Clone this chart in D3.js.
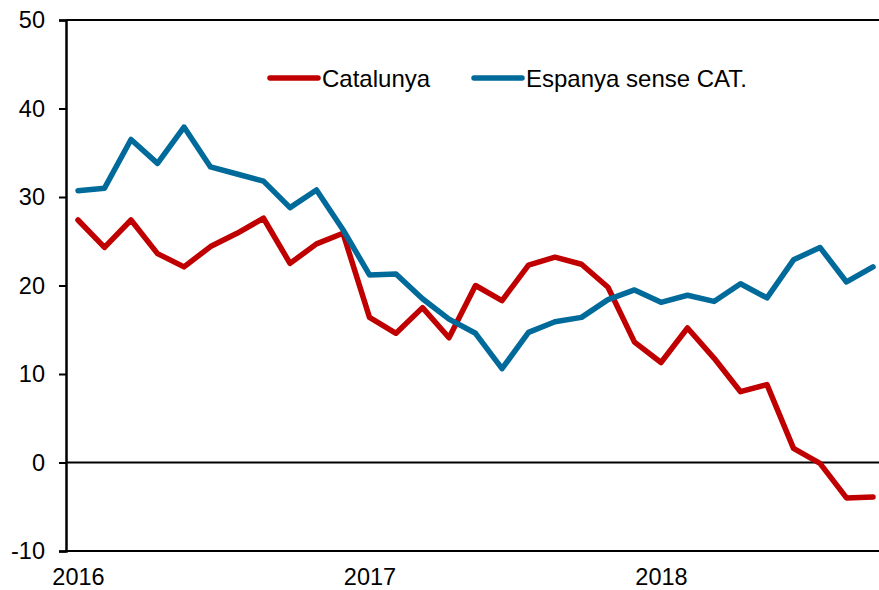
<!DOCTYPE html>
<html>
<head>
<meta charset="utf-8">
<script src="https://cdn.jsdelivr.net/npm/d3@7"></script>
<style>
  html, body { margin: 0; padding: 0; background: #fff; }
  svg { display: block; font-family: "Liberation Sans", Arial, sans-serif; }
</style>
</head>
<body>
<svg id="chart" width="879" height="590"></svg>
<script>
// Monthly observations (August not surveyed)
const categories = [
  "2016-01","2016-02","2016-03","2016-04","2016-05","2016-06","2016-07","2016-09","2016-10","2016-11","2016-12",
  "2017-01","2017-02","2017-03","2017-04","2017-05","2017-06","2017-07","2017-09","2017-10","2017-11","2017-12",
  "2018-01","2018-02","2018-03","2018-04","2018-05","2018-06","2018-07","2018-09","2018-10"
];
const catalunya = [
  27.4, 24.3, 27.4, 23.6, 22.1, 24.4, 25.9, 27.6, 22.5, 24.7, 25.9,
  16.4, 14.6, 17.5, 14.1, 20.0, 18.3, 22.3, 23.2, 22.4, 19.8, 13.6,
  11.3, 15.2, 11.8, 8.0, 8.8, 1.6, -0.1, -4.0, -3.9
];
const espanya = [
  30.7, 31.0, 36.5, 33.8, 37.9, 33.4, 32.6, 31.8, 28.8, 30.8, 26.3,
  21.2, 21.3, 18.5, 16.2, 14.6, 10.6, 14.7, 15.9, 16.4, 18.4, 19.5,
  18.1, 18.9, 18.2, 20.2, 18.6, 22.9, 24.3, 20.4, 22.1
];
const seriesNames = ["Catalunya", "Espanya sense CAT."];
const seriesColors = ["#c00000", "#006a9a"];
const yTicks = [-10, 0, 10, 20, 30, 40, 50];
const xTickLabels = ["2016", "2017", "2018"];
const xTickIndex = [0, 11, 22];

const svg = d3.select("#chart");
const mLeft = 66, mRight = 879, mTop = 20, mBottom = 551;
const FONT = "'Liberation Sans', Arial, sans-serif";

const x = d3.scaleLinear().domain([0, categories.length - 1]).range([78, 873]);
const y = d3.scaleLinear().domain([-10, 50]).range([mBottom, mTop]);

// frame lines: top, bottom, zero
[50, -10, 0].forEach(v => {
  svg.append("line")
    .attr("x1", mLeft).attr("x2", mRight).attr("y1", y(v)).attr("y2", y(v))
    .attr("stroke", "#000").attr("stroke-width", 2);
});

// y axis
const yAxis = d3.axisLeft(y).tickValues(yTicks).tickSize(7).tickPadding(14).tickFormat(d => String(d));
const gy = svg.append("g").attr("transform", `translate(${mLeft},0)`).call(yAxis);
gy.select(".domain").attr("stroke", "#000").attr("stroke-width", 2.5);
gy.selectAll(".tick line").attr("stroke", "#000").attr("stroke-width", 2);
gy.selectAll(".tick text").attr("font-size", 23.5).attr("fill", "#000").attr("font-family", FONT);

// x labels
const xAxis = d3.axisBottom(x).tickValues(xTickIndex).tickSize(0).tickPadding(17)
  .tickFormat((d, i) => xTickLabels[i]);
const gx = svg.append("g").attr("transform", `translate(0,${mBottom})`).call(xAxis);
gx.select(".domain").remove();
gx.selectAll(".tick text").attr("font-size", 23.5).attr("fill", "#000").attr("font-family", FONT);

// lines
const line = d3.line().x((d, i) => x(i)).y(d => y(d));
[catalunya, espanya].forEach((s, k) => {
  svg.append("path")
    .datum(s)
    .attr("d", line)
    .attr("fill", "none")
    .attr("stroke", seriesColors[k])
    .attr("stroke-width", 5.5)
    .attr("stroke-linejoin", "round")
    .attr("stroke-linecap", "round");
});

// legend
const legendX = [270, 474];
seriesNames.forEach((name, k) => {
  const g = svg.append("g").attr("transform", `translate(${legendX[k]},78)`);
  g.append("line").attr("x1", 0).attr("x2", 48).attr("y1", 0).attr("y2", 0)
    .attr("stroke", seriesColors[k]).attr("stroke-width", 5.5).attr("stroke-linecap", "round");
  g.append("text").attr("x", 52).attr("y", 8.5).attr("font-size", 24).attr("fill", "#000")
    .attr("font-family", FONT).text(name);
});
</script>
</body>
</html>
